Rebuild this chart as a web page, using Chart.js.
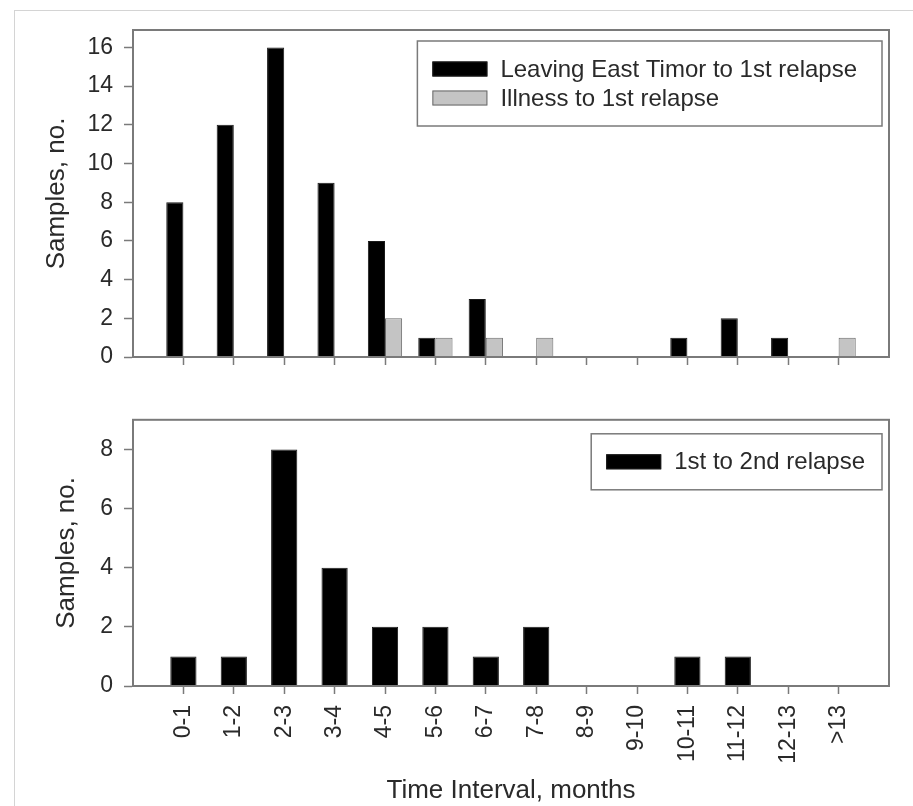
<!DOCTYPE html>
<html lang="en">
<head>
  <meta charset="UTF-8">
  <title>Time interval to relapse</title>
  <script src="https://cdn.jsdelivr.net/npm/chart.js"></script>
  <style>
    body { margin: 0; background: #fff; font-family: "Liberation Sans", Arial, sans-serif; }
    #frame { position: absolute; left: 14px; top: 10px; width: 899px; height: 796px;
             border-top: 1px solid #d4d4d4; border-left: 1px solid #d4d4d4; box-sizing: border-box; }
    .box { position: absolute; left: 0; width: 913px; }
  </style>
</head>
<body>
  <div id="frame"></div>
  <div class="box" style="top:0; height:395px;"><canvas id="topChart"></canvas></div>
  <div class="box" style="top:395px; height:411px;"><canvas id="bottomChart"></canvas></div>

  <script>
    // categories (time interval, months)
    const categories = ['0-1', '1-2', '2-3', '3-4', '4-5', '5-6', '6-7', '7-8', '8-9', '9-10', '10-11', '11-12', '12-13', '>13'];

    // top panel
    const leavingToFirst = [8, 12, 16, 9, 6, 1, 3, 0, 0, 0, 1, 2, 1, 0];
    const illnessToFirst = [0, 0, 0, 0, 2, 1, 1, 1, 0, 0, 0, 0, 0, 1];
    const topYTicks = [0, 2, 4, 6, 8, 10, 12, 14, 16];

    // bottom panel
    const firstToSecond = [1, 1, 8, 4, 2, 2, 1, 2, 0, 0, 1, 1, 0, 0];
    const bottomYTicks = [0, 2, 4, 6, 8];

    const FONT = '"Liberation Sans", Arial, sans-serif';
    const AXIS = '#7a7a7a';
    const TEXT = '#2a2a2a';

    function points(vals) {
      return vals.map((v, i) => ({ x: i, y: v }));
    }

    // frame around the plot area + boxed legend in the upper right
    const boxLegend = {
      id: 'boxLegend',
      afterDraw(chart) {
        const { ctx, chartArea: a } = chart;
        const o = chart.options.plugins.boxLegend;
        ctx.save();
        ctx.strokeStyle = AXIS;
        ctx.lineWidth = 2;
        ctx.strokeRect(a.left, a.top, a.right - a.left, a.bottom - a.top);

        const sets = chart.data.datasets;
        ctx.font = '24px ' + FONT;
        let tw = 0;
        sets.forEach(d => { tw = Math.max(tw, ctx.measureText(d.label).width); });
        const rowH = 29, pad = 28;
        const w = 83 + tw + o.rightPad;
        const h = pad * 2 + rowH * (sets.length - 1);
        const x0 = a.right - 7 - w;
        const y0 = a.top + o.top;
        ctx.fillStyle = '#fff';
        ctx.fillRect(x0, y0, w, h);
        ctx.lineWidth = 1.5;
        ctx.strokeStyle = '#7a7a7a';
        ctx.strokeRect(x0, y0, w, h);
        sets.forEach((d, i) => {
          const cy = y0 + pad + i * rowH;
          ctx.fillStyle = d.backgroundColor;
          ctx.fillRect(x0 + 15, cy - 7.5, 55, 15);
          ctx.lineWidth = 1;
          ctx.strokeStyle = d.borderColor;
          ctx.strokeRect(x0 + 15.5, cy - 7, 54, 14);
          ctx.fillStyle = TEXT;
          ctx.textBaseline = 'middle';
          ctx.textAlign = 'left';
          ctx.fillText(d.label, x0 + 83, cy + 1);
        });
        ctx.restore();
      }
    };

    function makeOptions(opts) {
      return {
        responsive: true,
        maintainAspectRatio: false,
        animation: false,
        layout: { padding: { left: 0, right: 24, top: opts.padTop, bottom: 0 } },
        plugins: {
          legend: { display: false },
          tooltip: { enabled: false },
          boxLegend: { top: opts.legendTop, rightPad: opts.legendRightPad }
        },
        scales: {
          x: {
            type: 'linear',
            min: -1,
            max: 14,
            offset: false,
            afterBuildTicks: s => { s.ticks = categories.map((c, i) => ({ value: i })); },
            afterFit: s => { s.height = opts.xHeight; },
            grid: { offset: false, drawOnChartArea: false, tickLength: 8, tickColor: AXIS, tickWidth: 1.5 },
            border: { color: AXIS, width: 2 },
            ticks: {
              display: opts.showLabels,
              autoSkip: false,
              minRotation: 90,
              maxRotation: 90,
              padding: 11,
              color: TEXT,
              font: { family: FONT, size: 23 },
              callback: v => categories[v]
            },
            title: {
              display: opts.showLabels,
              text: 'Time Interval, months',
              color: TEXT,
              font: { family: FONT, size: 26 },
              padding: { top: 2, bottom: 0 }
            }
          },
          y: {
            min: 0,
            max: opts.yMax,
            afterBuildTicks: s => { s.ticks = opts.yTicks.map(v => ({ value: v })); },
            afterFit: s => { s.width = 133; },
            grid: { drawOnChartArea: false, tickLength: 9, tickColor: AXIS, tickWidth: 1.5 },
            border: { color: AXIS, width: 2 },
            ticks: {
              padding: 11,
              color: TEXT,
              font: { family: FONT, size: 23 }
            },
            title: {
              display: true,
              text: 'Samples, no.',
              color: TEXT,
              font: { family: FONT, size: 26 },
              padding: { top: opts.titlePad, bottom: 0 }
            }
          }
        }
      };
    }

    new Chart(document.getElementById('topChart'), {
      type: 'bar',
      data: {
        datasets: [
          {
            label: 'Leaving East Timor to 1st relapse',
            data: points(leavingToFirst),
            backgroundColor: '#000000',
            borderColor: '#1a1a1a',
            borderWidth: 1,
            categoryPercentage: 0.68,
            barPercentage: 1.0
          },
          {
            label: 'Illness to 1st relapse',
            data: points(illnessToFirst),
            backgroundColor: '#c4c4c4',
            borderColor: '#6a6a6a',
            borderWidth: 1,
            categoryPercentage: 0.68,
            barPercentage: 1.0
          }
        ]
      },
      options: makeOptions({ padTop: 30, xHeight: 38, yMax: 16.9, yTicks: topYTicks, showLabels: false, titlePad: 41, legendTop: 11, legendRightPad: 25 }),
      plugins: [boxLegend]
    });

    new Chart(document.getElementById('bottomChart'), {
      type: 'bar',
      data: {
        datasets: [
          {
            label: '1st to 2nd relapse',
            data: points(firstToSecond),
            backgroundColor: '#000000',
            borderColor: '#1a1a1a',
            borderWidth: 1,
            categoryPercentage: 0.52,
            barPercentage: 1.0
          }
        ]
      },
      options: makeOptions({ padTop: 8, xHeight: 120, yMax: 9, yTicks: bottomYTicks, showLabels: true, titlePad: 51, legendTop: 14, legendRightPad: 17 }),
      plugins: [boxLegend]
    });
  </script>
</body>
</html>
